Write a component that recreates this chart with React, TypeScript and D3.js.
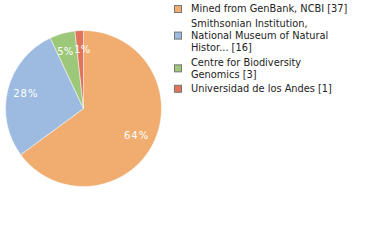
import React, { useEffect, useRef } from 'react';
import * as d3 from 'd3';

const legendLines = [
  ['Mined from GenBank, NCBI [37]'],
  ['Smithsonian Institution,', 'National Museum of Natural', 'Histor... [16]'],
  ['Centre for Biodiversity', 'Genomics [3]'],
  ['Universidad de los Andes [1]'],
];
const values = [37, 16, 3, 1];
const colors = ['#f0ad6f', '#9dbbe0', '#9dc779', '#e0735a'];

const App = () => {
  const ref = useRef<SVGSVGElement>(null);
  useEffect(() => {
    if (!ref.current) return;
    const svg = d3.select(ref.current);
    svg.selectAll('*').remove();
    const cx = 83.5;
    const cy = 108.5;
    const r = 78;
    const total = d3.sum(values);

    const pie = d3.pie<number>().sort(null).value((d) => d);
    const arcs = pie(values);
    const arc = d3.arc<d3.PieArcDatum<number>>().innerRadius(0).outerRadius(r);
    const labelArc = d3.arc<d3.PieArcDatum<number>>().innerRadius(59.5).outerRadius(59.5);

    const g = svg.append('g').attr('transform', `translate(${cx},${cy})`);
    g.selectAll('path')
      .data(arcs)
      .join('path')
      .attr('d', arc)
      .attr('fill', (_, i) => colors[i])
      .attr('stroke', '#fff')
      .attr('stroke-width', 0.5);

    // label spots; push neighbours apart when they would collide
    const spots = arcs.map((d) => labelArc.centroid(d));
    const minGap = 17;
    for (let i = 1; i < spots.length; i++) {
      const a = spots[i - 1];
      const b = spots[i];
      const dx = b[0] - a[0];
      if (Math.abs(b[1] - a[1]) < 10 && Math.abs(dx) < minGap) {
        const push = (minGap - Math.abs(dx)) / 2;
        const s = dx >= 0 ? 1 : -1;
        a[0] -= push * s;
        b[0] += push * s;
      }
    }

    g.selectAll('text')
      .data(arcs)
      .join('text')
      .attr('transform', (_, i) => `translate(${spots[i]})`)
      .attr('text-anchor', 'middle')
      .attr('dy', '0.35em')
      .attr('fill', '#fff')
      .attr('font-family', 'DejaVu Sans')
      .attr('font-size', 10)
      .attr('letter-spacing', (d) => (d.value / total < 0.1 ? 0 : 1))
      .text((d) => `${Math.floor((d.value / total) * 100)}%`);

    const legend = svg.append('g').attr('font-family', 'DejaVu Sans').attr('font-size', 9.8).attr('fill', '#222');
    const lineH = 12.3;
    let y = 9;
    legendLines.forEach((lines, i) => {
      const mid = y + ((lines.length - 1) * lineH) / 2;
      legend
        .append('rect')
        .attr('x', 174.5)
        .attr('y', mid - 3.5)
        .attr('width', 7)
        .attr('height', 7)
        .attr('fill', colors[i])
        .attr('stroke', '#777')
        .attr('stroke-width', 1);
      lines.forEach((t, j) => {
        legend
          .append('text')
          .attr('x', 191)
          .attr('y', y + j * lineH)
          .attr('dy', '0.35em')
          .text(t);
      });
      y += (lines.length - 1) * lineH + 14.3;
    });
  }, []);
  return <svg ref={ref} width={380} height={240} style={{ position: 'absolute', left: 0, top: 0, background: '#fff' }} />;
};

export default App;
